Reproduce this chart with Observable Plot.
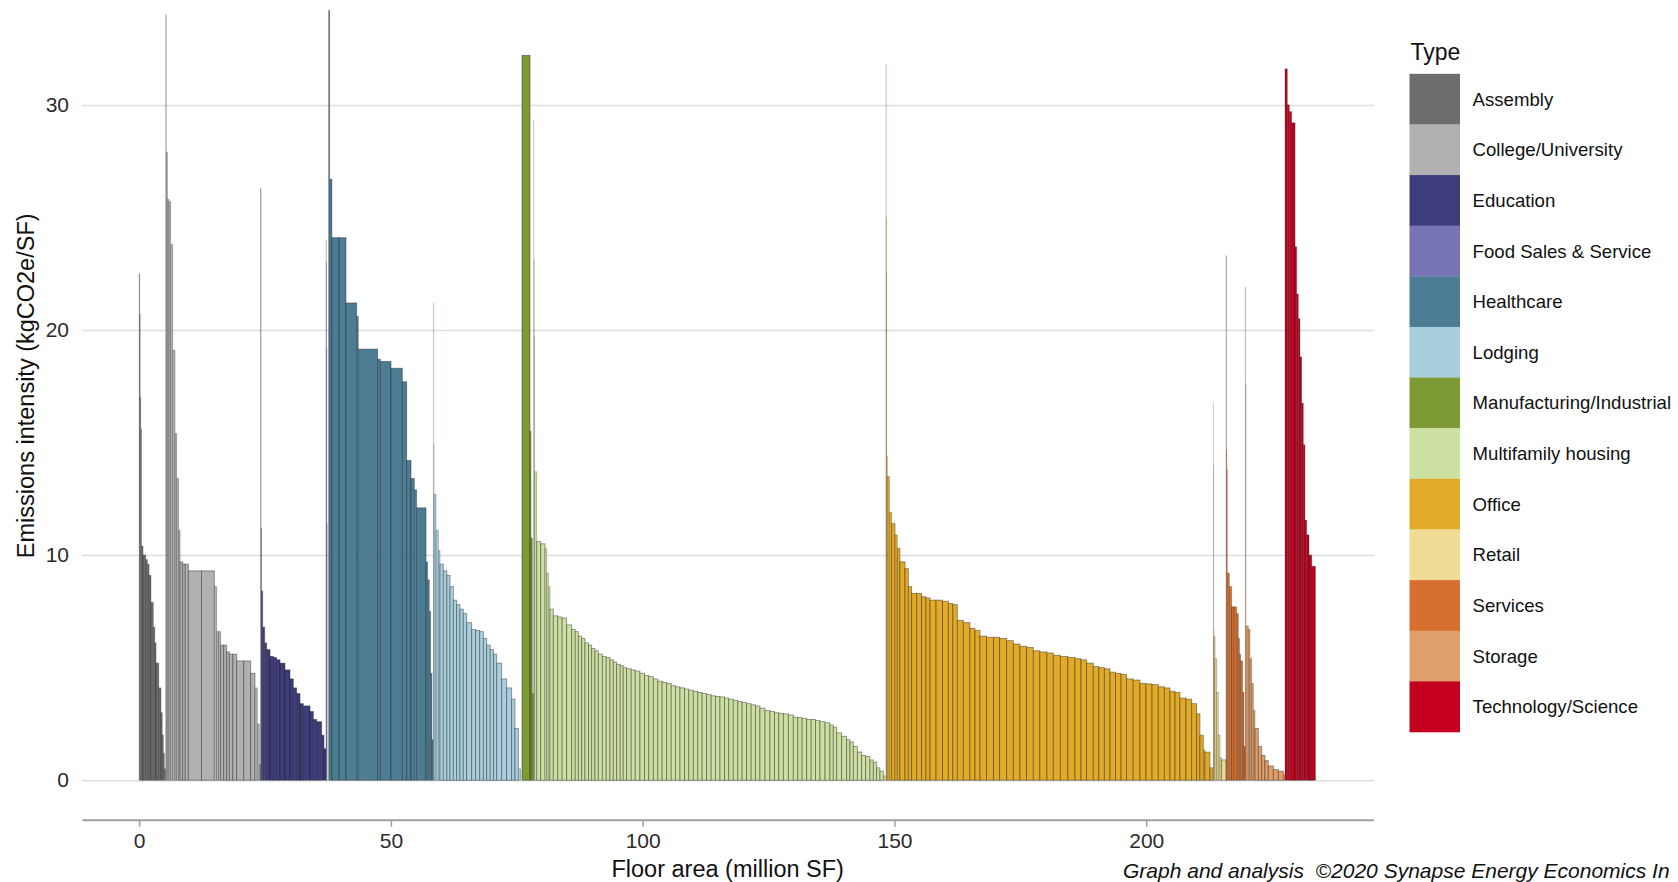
<!DOCTYPE html>
<html>
<head>
<meta charset="utf-8">
<script src="https://cdn.jsdelivr.net/npm/d3@7"></script>
<script src="https://cdn.jsdelivr.net/npm/@observablehq/plot@0.6"></script>
<style>
  html, body { margin: 0; padding: 0; background: #fff; overflow: hidden; }
  #wrap { position: relative; width: 1678px; height: 882px; overflow: hidden; font-family: "Liberation Sans", Arial, sans-serif; }
  #wrap > svg { position: absolute; left: 0; top: 0; }
</style>
</head>
<body>
<div id="wrap"></div>
<script>
// ---------------- data ----------------
const types = ["Assembly", "College/University", "Education", "Food Sales & Service", "Healthcare",
  "Lodging", "Manufacturing/Industrial", "Multifamily housing", "Office", "Retail", "Services",
  "Storage", "Technology/Science"];
const colors = ["#6d6d6d", "#b1b1b1", "#3d3c7c", "#7774b6", "#4d7d95", "#a9cfdf", "#7d9a34",
  "#cce0a1", "#e2aa29", "#f0dc94", "#d7702f", "#e09e6a", "#c5001e"];

// floor area of each building (million SF) and its emissions intensity (kgCO2e/SF)
const assemblyArea = [0.12, 0.1, 0.12, 0.14, 0.3, 0.5, 0.35, 0.35, 0.38, 0.46, 0.3, 0.24, 0.53, 0.46, 0.24, 0.22, 0.2, 0.26];
const assemblyKg   = [22.5, 20.7, 17.0, 15.6, 10.4, 10.0, 9.8, 9.6, 9.1, 7.9, 6.8, 6.1, 5.2, 4.1, 3.0, 2.0, 1.2, 0.5];

const collegeArea = [0.14, 0.2, 0.33, 0.33, 0.4, 0.46, 0.33, 0.4, 0.27, 0.53, 0.5, 0.62, 2.6, 2.56, 0.46, 0.4, 0.4, 0.6, 0.59, 0.53, 0.7, 0.76, 1.4, 1.38, 0.85, 0.47, 0.4, 0.26];
const collegeKg   = [34.0, 27.9, 25.8, 25.7, 23.8, 19.1, 15.4, 13.4, 11.1, 9.7, 9.6, 9.6, 9.3, 9.3, 8.6, 6.6, 6.6, 6.0, 6.0, 5.7, 5.6, 5.6, 5.3, 5.3, 4.75, 4.1, 2.5, 0.7];

const educationArea = [0.08, 0.08, 0.24, 0.4, 0.39, 0.66, 0.7, 0.6, 0.69, 0.99, 0.99, 0.66, 0.67, 0.66, 0.66, 1.33, 0.66, 0.66, 0.99, 0.47, 0.39];
const educationKg   = [26.3, 11.2, 8.4, 6.8, 6.1, 5.8, 5.5, 5.45, 5.35, 5.2, 4.9, 4.5, 4.1, 3.85, 3.4, 3.3, 3.05, 2.7, 2.6, 2.0, 1.4];

const foodArea = [0.05, 0.06, 0.06, 0.06, 0.3];
const foodKg   = [24.0, 23.0, 19.2, 11.4, 0];

const healthArea = [0.2, 0.46, 1.4, 1.38, 2.12, 0.33, 3.84, 0.53, 2.12, 2.25, 0.86, 0.86, 0.66, 0.47, 1.85, 0.33, 0.33, 0.27, 0.26, 0.27];
const healthKg   = [34.2, 26.7, 24.1, 24.1, 21.2, 20.6, 19.15, 18.7, 18.6, 18.3, 17.7, 14.2, 13.4, 12.9, 12.1, 9.7, 8.9, 7.5, 4.75, 1.8];

const lodgingArea = [0.06, 0.07, 0.4, 0.46, 0.33, 0.66, 0.7, 0.63, 0.66, 0.66, 0.66, 0.66, 0.67, 0.99, 0.8, 0.8, 0.72, 0.66, 0.7, 0.65, 0.64, 0.99, 0.99, 0.99, 0.66, 0.67, 0.46, 0.26];
const lodgingKg   = [21.2, 14.9, 12.7, 11.1, 10.2, 9.6, 9.3, 9.1, 8.6, 8.0, 7.8, 7.6, 7.4, 7.0, 6.7, 6.65, 6.6, 6.3, 6.0, 5.8, 5.6, 5.2, 4.5, 4.1, 3.6, 2.3, 0.5, 0];

const manufArea = [1.59, 0.2, 0.27, 0.26];
const manufKg   = [32.2, 15.5, 10.75, 3.85];

const multiArea = [0.06, 0.07, 0.07, 0.4, 0.8, 0.85, 0.33, 0.33, 0.33, 0.66, 0.9, 0.85, 0.9, 1.0, 0.7, 0.62, 0.66, 0.66, 0.7, 0.63,
  0.66, 0.66, 0.8, 0.76, 0.76, 0.66, 0.66, 0.7, 0.6, 0.69, 0.9, 0.8, 0.94, 0.9, 0.85, 0.9, 0.9, 0.85, 0.9, 0.9,
  0.85, 0.9, 0.9, 0.85, 0.89, 0.9, 0.85, 0.9, 0.9, 0.85, 0.9, 0.9, 0.85, 0.89, 0.9, 0.85, 0.9, 0.9, 0.85, 0.9,
  1.0, 0.99, 0.9, 0.85, 0.9, 1.0, 0.98, 0.9, 0.85, 0.9, 0.9, 0.85, 0.9, 1.0, 0.98, 0.66, 0.67, 0.99, 0.99, 0.66,
  0.67, 0.8, 0.85, 0.8, 0.86, 0.66, 0.66, 0.66, 0.67, 0.33, 0.19];
const multiKg = [29.3, 23.1, 19.7, 13.7, 10.6, 10.5, 10.3, 9.2, 8.6, 7.6, 7.3, 7.25, 7.2, 6.9, 6.7, 6.6, 6.4, 6.3, 6.1, 6.0,
  5.85, 5.75, 5.6, 5.5, 5.45, 5.35, 5.25, 5.15, 5.1, 5.0, 4.95, 4.9, 4.85, 4.75, 4.65, 4.6, 4.5, 4.4, 4.35, 4.3,
  4.2, 4.15, 4.1, 4.05, 4.0, 3.95, 3.9, 3.85, 3.8, 3.75, 3.72, 3.7, 3.65, 3.6, 3.55, 3.5, 3.45, 3.4, 3.35, 3.3,
  3.2, 3.1, 3.05, 3.0, 2.97, 2.95, 2.9, 2.8, 2.78, 2.75, 2.7, 2.7, 2.65, 2.6, 2.55, 2.45, 2.35, 2.1, 1.95, 1.8,
  1.7, 1.5, 1.25, 1.1, 1.05, 0.9, 0.8, 0.55, 0.4, 0.2, 0];

const officeArea = [0.05, 0.05, 0.04, 0.13, 0.4, 0.46, 0.66, 0.46, 0.53, 1.0, 0.66, 0.66, 1.0, 0.99, 0.85, 0.8, 1.2, 1.3, 1.14, 0.9,
  0.89, 1.19, 1.32, 1.0, 0.99, 1.3, 1.4, 1.2, 1.39, 1.33, 1.32, 1.3, 1.35, 1.3, 1.4, 1.27, 1.4, 1.5, 1.4, 1.2,
  1.12, 1.32, 1.1, 1.1, 1.11, 1.1, 1.1, 1.11, 1.3, 1.35, 1.2, 1.2, 1.24, 1.2, 1.12, 1.0, 0.98, 1.2, 1.12, 0.99,
  0.66, 0.66, 0.33, 1.0, 0.53, 0.13];
const officeKg = [31.8, 25.0, 22.5, 14.4, 13.5, 11.9, 11.4, 10.9, 10.3, 9.7, 9.4, 8.6, 8.3, 8.3, 8.15, 8.1, 8.0, 8.0, 7.95, 7.85,
  7.8, 7.1, 7.0, 6.75, 6.65, 6.4, 6.35, 6.35, 6.3, 6.2, 6.05, 5.95, 5.9, 5.75, 5.7, 5.65, 5.55, 5.5, 5.45, 5.4,
  5.35, 5.2, 5.05, 5.0, 4.95, 4.8, 4.75, 4.7, 4.5, 4.45, 4.3, 4.28, 4.25, 4.15, 4.1, 3.95, 3.9, 3.65, 3.6, 3.4,
  2.95, 2.0, 1.35, 1.25, 0.55, 0];

const retailArea = [0.04, 0.05, 0.04, 0.2, 0.34, 0.32, 0.34, 0.33, 0.86];
const retailKg   = [16.8, 14.0, 6.7, 6.4, 5.4, 3.9, 2.0, 1.0, 0.9];

const servicesArea = [0.08, 0.09, 0.09, 0.4, 0.46, 0.5, 0.49, 0.33, 0.23, 0.24, 0.39, 0.27, 0.26];
const servicesKg   = [23.3, 14.7, 13.8, 9.2, 8.6, 7.7, 7.7, 7.4, 6.3, 5.6, 5.3, 3.9, 1.5];

const storageArea = [0.07, 0.07, 0.46, 0.33, 0.33, 0.34, 0.33, 0.66, 0.66, 0.66, 0.66, 1.0, 0.99, 0.99, 0.34];
const storageKg   = [21.9, 17.6, 6.85, 6.7, 5.4, 4.3, 3.1, 2.3, 1.5, 1.1, 0.87, 0.63, 0.47, 0.4, 0.24];

const techArea = [0.45, 0.4, 0.46, 0.67, 0.33, 0.33, 0.33, 0.33, 0.33, 0.33, 0.33, 0.47, 0.53, 0.73];
const techKg   = [31.6, 30.0, 29.7, 29.2, 23.7, 21.6, 20.5, 18.8, 16.75, 14.9, 11.55, 10.9, 10.0, 9.5];

const xTicks = [0, 50, 100, 150, 200];
const yTicks = [0, 10, 20, 30];

// ---------------- build table ----------------
const areaLists = [assemblyArea, collegeArea, educationArea, foodArea, healthArea, lodgingArea, manufArea,
  multiArea, officeArea, retailArea, servicesArea, storageArea, techArea];
const kgLists = [assemblyKg, collegeKg, educationKg, foodKg, healthKg, lodgingKg, manufKg,
  multiKg, officeKg, retailKg, servicesKg, storageKg, techKg];

const rows = [];
let cum = 0;
types.forEach((t, i) => {
  areaLists[i].forEach((a, j) => {
    rows.push({type: t, x1: cum, x2: cum + a, y1: 0, y2: kgLists[i][j]});
    cum += a;
  });
});
const bars = rows.filter(d => d.y2 > 0);

// ---------------- chart ----------------
const W = 1678, H = 882;
const yMin = -1.759, yMax = 34.57;
const chart = Plot.plot({
  width: W, height: H,
  marginLeft: 82.4, marginRight: 304, marginTop: 2, marginBottom: 62.2,
  style: {fontFamily: '"Liberation Sans", Arial, sans-serif', background: "transparent", overflow: "visible"},
  x: {domain: [-11.26, 245.22]},
  y: {domain: [yMin, yMax]},
  color: {domain: types, range: colors},
  marks: [
    Plot.gridY(yTicks, {stroke: "#dedede", strokeOpacity: 1, strokeWidth: 1.5}),
    Plot.rect(bars, {x1: "x1", x2: "x2", y1: "y1", y2: "y2", fill: "type",
      stroke: "#1a1a1a",
      strokeOpacity: d => (d.x2 - d.x1) < 0.15 ? 0.18 : (d.x2 - d.x1) < 0.5 ? 0.3 : 0.45,
      strokeWidth: 0.9}),
    Plot.ruleY([yMin], {stroke: "#a0a0a0", strokeWidth: 2}),
    Plot.axisX(xTicks, {anchor: "bottom", label: null, tickSize: 7, tickPadding: 6,
      fontSize: 21, stroke: "#a0a0a0", strokeWidth: 1.5, fill: "#2b2b2b"}),
    Plot.axisY(yTicks, {anchor: "left", label: null, tickSize: 0, tickPadding: 13.9,
      fontSize: 21, fill: "#2b2b2b"})
  ]
});
const wrap = document.getElementById("wrap");
wrap.appendChild(chart);

// ---------------- titles, caption, legend ----------------
const ov = d3.create("svg").attr("width", W).attr("height", H)
  .attr("font-family", '"Liberation Sans", Arial, sans-serif')
  .style("pointer-events", "none");

ov.append("text").attr("transform", "translate(33.8,385.8) rotate(-90)")
  .attr("text-anchor", "middle").attr("font-size", 23.5).attr("fill", "#111")
  .text("Emissions intensity (kgCO2e/SF)");
ov.append("text").attr("x", 727.7).attr("y", 877)
  .attr("text-anchor", "middle").attr("font-size", 23.5).attr("fill", "#111")
  .text("Floor area (million SF)");
ov.append("text").attr("x", 1123).attr("y", 878)
  .attr("font-size", 21).attr("font-style", "italic").attr("fill", "#111")
  .attr("xml:space", "preserve").style("white-space", "pre")
  .text("Graph and analysis  \u00a92020 Synapse Energy Economics In");

const lg = ov.append("g");
lg.append("text").attr("x", 1410.5).attr("y", 59.6).attr("font-size", 23).attr("fill", "#111").text("Type");
const sw = 50.63, top0 = 73.8;
types.forEach((t, i) => {
  lg.append("rect").attr("x", 1409.5).attr("y", top0 + i * sw).attr("width", 50.5).attr("height", sw + 0.3)
    .attr("fill", colors[i]);
  lg.append("text").attr("x", 1472.6).attr("y", top0 + i * sw + sw / 2 + 6.5)
    .attr("font-size", 18.6).attr("fill", "#111").text(t);
});
wrap.appendChild(ov.node());
</script>
</body>
</html>
